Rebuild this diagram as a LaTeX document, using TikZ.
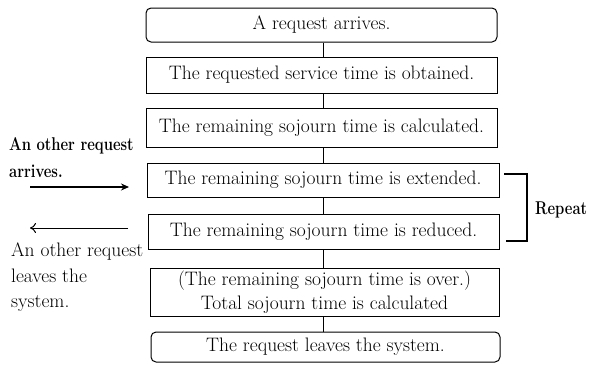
\documentclass[tikz,border=0pt]{standalone}
\usetikzlibrary{arrows.meta}
\newcommand{\narrowbold}[1]{\scalebox{0.8}[1]{\bfseries #1}}
\begin{document}
\begin{tikzpicture}[x=1pt,y=-1pt,
  every node/.style={font=\fontsize{19.5}{24}\selectfont, inner sep=0pt},
  heavy/.style={font=\fontsize{18.5}{22}\selectfont},
  stepbox/.style={draw, line width=1pt, align=center},
  roundbox/.style={stepbox, rounded corners=5pt},
  link/.style={line width=1pt},
  flow/.style={line width=1.2pt, -{Stealth[length=8pt,width=7pt]}},
  backflow/.style={line width=1pt, -{To[length=6pt,width=10pt]}},
  sidetext/.style={anchor=base west, align=left}]
  \useasboundingbox (0,0) rectangle (590,365);
  % main sequence of steps
  \node[roundbox, minimum width=351pt, minimum height=34pt] (s1) at (321.5,25) {A request arrives.};
  \node[stepbox, minimum width=351pt, minimum height=36pt] (s2) at (321.5,75) {The requested service time is obtained.};
  \node[stepbox, minimum width=351pt, minimum height=39pt] (s3) at (321.5,127.5) {The remaining sojourn time is calculated.};
  \node[stepbox, minimum width=352pt, minimum height=34pt] (s4) at (323,180) {The remaining sojourn time is extended.};
  \node[stepbox, minimum width=351pt, minimum height=35pt] (s5) at (323.5,231.5) {The remaining sojourn time is reduced.};
  \node[stepbox, minimum width=349pt, minimum height=48pt] (s6) at (324.5,292) {(The remaining sojourn time is over.)\\Total sojourn time is calculated};
  \node[roundbox, minimum width=349pt, minimum height=30pt] (s7) at (325.5,347) {The request leaves the system.};
  % vertical links between steps
  \foreach \a/\b in {s1/s2,s2/s3,s3/s4,s4/s5,s5/s6,s6/s7}
    \draw[link] (\a.south -| 323,0) -- (\b.north -| 323,0);
  % repeat bracket
  \coordinate (bt1) at (504,174);
  \coordinate (bt2) at (527,174);
  \coordinate (bb2) at (527,241);
  \coordinate (bb1) at (506,241);
  \draw[line width=1.5pt] (bt1) -- (bt2) -- (bb2) -- (bb1);
  \node[anchor=west, heavy] (rep) at (535,210) {\narrowbold{Repeat}};
  % incoming request
  \node[sidetext, heavy] (inA) at (9,150) {\narrowbold{An other request}};
  \node[sidetext, heavy] (inB) at (9,177) {\narrowbold{arrives.}};
  \coordinate (inS) at (30,187);
  \coordinate (inE) at (129,187);
  \draw[flow] (inS) -- (inE);
  % leaving request
  \coordinate (outS) at (128,228);
  \coordinate (outE) at (30,228);
  \draw[backflow] (outS) -- (outE);
  \node[sidetext] (outA) at (11,256) {An other request};
  \node[sidetext] (outB) at (11,282) {leaves the};
  \node[sidetext] (outC) at (11,307) {system.};
\end{tikzpicture}
\end{document}
